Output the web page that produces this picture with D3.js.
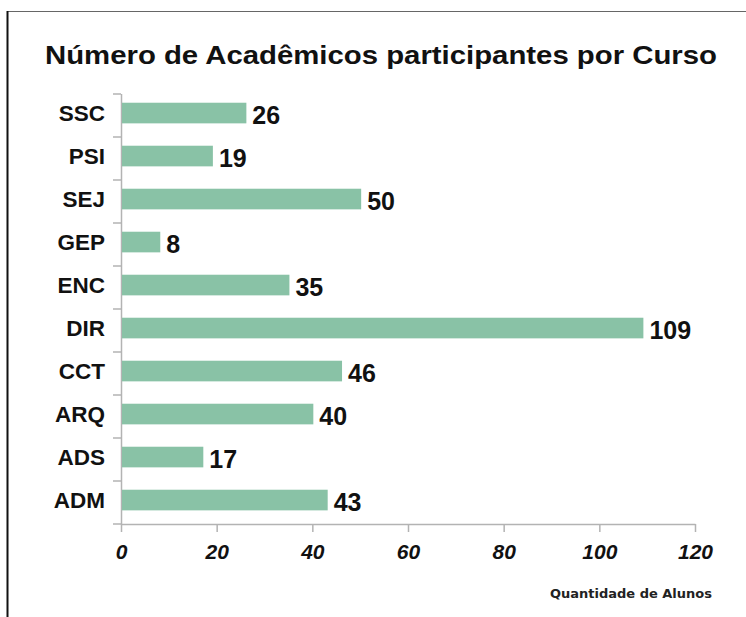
<!DOCTYPE html>
<html>
<head>
<meta charset="utf-8">
<script src="https://cdn.jsdelivr.net/npm/d3@7"></script>
<style>
  body { margin: 0; background: #fff; }
  text { font-family: "Liberation Sans", Arial, sans-serif; }
</style>
</head>
<body>
<div id="chart"></div>
<script>
var cursos = ["SSC", "PSI", "SEJ", "GEP", "ENC", "DIR", "CCT", "ARQ", "ADS", "ADM"];
var alunos = [26, 19, 50, 8, 35, 109, 46, 40, 17, 43];
var xTicks = [0, 20, 40, 60, 80, 100, 120];

var width = 746;
var height = 617;

var svg = d3.select("#chart")
    .append("svg")
      .attr("width", width)
      .attr("height", height);

// frame
svg.append("line")
    .attr("x1", 7).attr("x2", width).attr("y1", 11.5).attr("y2", 11.5)
    .attr("stroke", "#666").attr("stroke-width", 1);
svg.append("line")
    .attr("x1", 7.5).attr("x2", 7.5).attr("y1", 11).attr("y2", height)
    .attr("stroke", "#111").attr("stroke-width", 2);

svg.append("text")
    .attr("x", 381)
    .attr("y", 64)
    .attr("text-anchor", "middle")
    .attr("textLength", 672)
    .attr("lengthAdjust", "spacingAndGlyphs")
    .style("font-size", "26px")
    .style("font-weight", "bold")
    .attr("fill", "#111")
    .text("Número de Acadêmicos participantes por Curso");

var x = d3.scaleLinear()
    .domain([0, 120])
    .range([121, 695]);

var y = d3.scaleBand()
    .domain(cursos)
    .range([94, 524])
    .paddingInner(0.52)
    .paddingOuter(0.26)
    .align(0.39);

var data = cursos.map(function(c, i) { return { curso: c, valor: alunos[i] }; });

// y axis line and ticks at band boundaries
var g = svg.append("g");
g.append("line")
    .attr("x1", x(0) + 0.5).attr("x2", x(0) + 0.5)
    .attr("y1", 94).attr("y2", 524)
    .attr("stroke", "#b3b3b3").attr("stroke-width", 1.5);
var step = y.step();
g.selectAll(".ytick")
    .data(d3.range(cursos.length + 1))
    .enter()
    .append("line")
      .attr("x1", x(0) - 8).attr("x2", x(0))
      .attr("y1", function(d) { return 94 + d * step; })
      .attr("y2", function(d) { return 94 + d * step; })
      .attr("stroke", "#b3b3b3").attr("stroke-width", 1.5);

// x axis
var xAxis = svg.append("g")
    .attr("transform", "translate(0,524)")
    .call(d3.axisBottom(x).tickValues(xTicks).tickSize(8).tickPadding(12).tickSizeOuter(0));
xAxis.select(".domain").attr("stroke", "#b3b3b3").attr("stroke-width", 1.5);
xAxis.selectAll(".tick line").attr("stroke", "#b3b3b3").attr("stroke-width", 1.5);
xAxis.selectAll(".tick text")
    .style("font-family", "'Liberation Sans', Arial, sans-serif")
    .style("font-size", "21px")
    .style("font-weight", "bold")
    .style("font-style", "italic")
    .attr("fill", "#111");

// bars
svg.selectAll(".bar")
    .data(data)
    .enter()
    .append("rect")
      .attr("x", x(0) + 1)
      .attr("y", function(d) { return y(d.curso); })
      .attr("width", function(d) { return x(d.valor) - x(0); })
      .attr("height", y.bandwidth())
      .style("fill", "#89c2a6");

// category labels
svg.selectAll(".cat")
    .data(data)
    .enter()
    .append("text")
      .attr("x", 105)
      .attr("y", function(d) { return y(d.curso) + y.bandwidth() / 2 + 7.5; })
      .attr("text-anchor", "end")
      .style("font-size", "22.5px")
      .style("font-weight", "bold")
      .attr("fill", "#111")
      .text(function(d) { return d.curso; });

// value labels
svg.selectAll(".val")
    .data(data)
    .enter()
    .append("text")
      .attr("x", function(d) { return x(d.valor) + 7; })
      .attr("y", function(d) { return y(d.curso) + y.bandwidth() / 2 + 10.5; })
      .style("font-size", "25px")
      .style("font-weight", "bold")
      .attr("fill", "#111")
      .text(function(d) { return d.valor; });

svg.append("text")
    .attr("x", 712)
    .attr("y", 598)
    .attr("text-anchor", "end")
    .style("font-family", "'DejaVu Sans', sans-serif")
    .style("font-size", "13px")
    .style("font-weight", "bold")
    .attr("fill", "#222")
    .text("Quantidade de Alunos");
</script>
</body>
</html>
